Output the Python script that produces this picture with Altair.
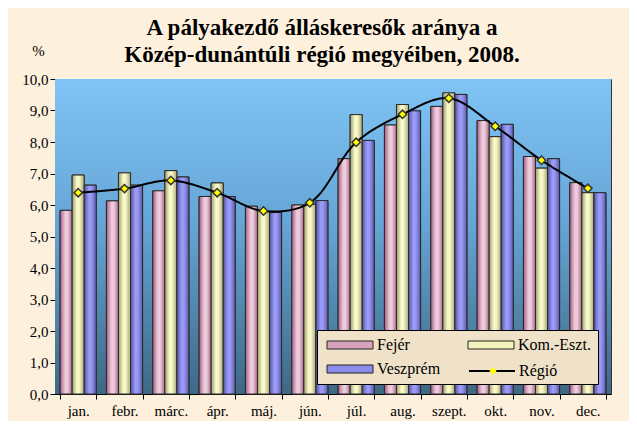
import altair as alt
import pandas as pd

months = ["jan.", "febr.", "márc.", "ápr.", "máj.", "jún.", "júl.", "aug.", "szept.", "okt.", "nov.", "dec."]
series = ["Fejér", "Kom.-Eszt.", "Veszprém"]
fejer = [5.83, 6.13, 6.45, 6.27, 5.96, 6.00, 7.47, 8.54, 9.13, 8.68, 7.54, 6.71]
kom = [6.95, 7.02, 7.09, 6.70, 5.81, 6.02, 8.87, 9.19, 9.56, 8.17, 7.17, 6.39]
vesz = [6.63, 6.63, 6.89, 6.27, 5.76, 6.14, 8.05, 8.99, 9.51, 8.56, 7.47, 6.39]
regio = [6.39, 6.52, 6.78, 6.39, 5.81, 6.07, 7.99, 8.88, 9.39, 8.50, 7.42, 6.53]
y_ticks = [0, 1, 2, 3, 4, 5, 6, 7, 8, 9, 10]

series_colors = ["#D9A3BE", "#F2F2BC", "#8C8CEC"]

rows = []
for s, vals in zip(series, [fejer, kom, vesz]):
    for m, v in zip(months, vals):
        rows.append({"month": m, "series": s, "value": v})
bars_df = pd.DataFrame(rows)
reg_df = pd.DataFrame({"month": months, "value": regio,
                       "series": ["Régió"] * len(months), "marker": ["m"] * len(months)})

SERIF = "Liberation Serif"

x_axis = alt.Axis(labelAngle=0, labelFont=SERIF, labelFontSize=15, labelColor="#000",
                  tickBand="extent", tickColor="#000", tickSize=5, labelPadding=4,
                  domainColor="#000", grid=False, title=None)
y_axis = alt.Axis(values=y_ticks, labelExpr="replace(format(datum.value, '.1f'), '.', ',')",
                  labelFont=SERIF, labelFontSize=15, labelColor="#000", labelOverlap=False,
                  tickColor="#000", tickSize=5, domainColor="#000",
                  gridColor="#000", gridWidth=1.2, gridOpacity=1,
                  title="%", titleAngle=0, titleX=-17, titleY=-29,
                  titleAlign="center", titleBaseline="middle",
                  titleFont=SERIF, titleFontSize=15, titleFontWeight="normal")
x_scale = alt.Scale(domain=months, paddingInner=0.22, paddingOuter=0.11)
y_scale = alt.Scale(domain=[0, 10], nice=False)

x_enc = alt.X("month:N", sort=months, scale=x_scale, axis=x_axis)
y_enc = alt.Y("value:Q", scale=y_scale, axis=y_axis, title="%")
xoff = alt.XOffset("series:N", sort=series, scale=alt.Scale(domain=series, paddingInner=0, paddingOuter=0))

color_enc = alt.Color("series:N", scale=alt.Scale(domain=series, range=series_colors),
                      legend=alt.Legend(
                          title=None, orient="none", legendX=262, legendY=251, columns=2,
                          direction="horizontal",
                          fillColor="#EFE2C8", strokeColor="#000", padding=7,
                          labelFont=SERIF, labelFontSize=16, labelColor="#000",
                          symbolType="M-1,-0.8H8.2V0.8H-1Z",
                          symbolSize=100, symbolStrokeColor="#222", symbolStrokeWidth=1,
                          symbolOpacity=1, columnPadding=24, rowPadding=8, labelOffset=37))

plot_bg = alt.Gradient(gradient="linear", x1=0, x2=0, y1=0, y2=1,
                       stops=[alt.GradientStop(color="#7FC4F5", offset=0),
                              alt.GradientStop(color="#66A6D6", offset=0.45),
                              alt.GradientStop(color="#3E6985", offset=1)])
bg = alt.Chart(pd.DataFrame({"a": [0]})).mark_rect(fill=plot_bg).encode(
    y=alt.Y(datum=0, type="quantitative", scale=y_scale, axis=y_axis, title="%"),
    y2=alt.Y2(datum=10))

base_bars = alt.Chart(bars_df).mark_bar(stroke="#2b2b2b", strokeWidth=1).encode(
    x=x_enc, xOffset=xoff, y=y_enc, color=color_enc)

grad_stops = {
    "Fejér": ["#A55A86", "#E9C7D7", "#EDD0DD", "#B06890"],
    "Kom.-Eszt.": ["#9C9C6C", "#FAFACC", "#F6F6C4", "#A8A878"],
    "Veszprém": ["#5252A0", "#9C9CF8", "#9898F4", "#5A5AAA"],
}
overlays = []
for s in series:
    c = grad_stops[s]
    g = alt.Gradient(gradient="linear", x1=0, x2=1, y1=0, y2=0,
                     stops=[alt.GradientStop(color=c[0], offset=0),
                            alt.GradientStop(color=c[1], offset=0.4),
                            alt.GradientStop(color=c[2], offset=0.6),
                            alt.GradientStop(color=c[3], offset=1)])
    overlays.append(alt.Chart(bars_df).transform_filter(alt.datum.series == s)
                    .mark_bar(fill=g, stroke="#2b2b2b", strokeWidth=1)
                    .encode(x=x_enc, xOffset=xoff, y=y_enc))

line = alt.Chart(reg_df).mark_line(interpolate="catmull-rom", color="#000", strokeWidth=2).encode(
    x=x_enc, y=y_enc,
    strokeDash=alt.StrokeDash("series:N", scale=alt.Scale(domain=["Régió"], range=[[1, 0]]),
                              legend=alt.Legend(title=None, orient="none", legendX=411, legendY=284,
                                                labelFont=SERIF, labelFontSize=16, labelColor="#000",
                                                symbolType="M-1,0H8.2", symbolSize=100,
                                                symbolStrokeColor="#000", symbolStrokeWidth=2,
                                                symbolOpacity=1, labelOffset=37, padding=0)))
points = alt.Chart(reg_df).mark_point(filled=True, shape="diamond", size=70, stroke="#333",
                                      strokeWidth=1.5, opacity=1, fill="#FFFF00").encode(
    x=x_enc, y=y_enc,
    shape=alt.Shape("marker:N", scale=alt.Scale(domain=["m"], range=["diamond"]),
                    legend=alt.Legend(title=None, orient="none", legendX=430, legendY=284,
                                      labelExpr="' '", labelFont=SERIF, labelFontSize=16,
                                      symbolSize=55, symbolFillColor="#FFFF00",
                                      symbolStrokeColor="#333", symbolStrokeWidth=1.5,
                                      symbolOpacity=1, padding=0)))

chart = alt.layer(bg, base_bars, *overlays, line, points).properties(
    width=556, height=315,
    autosize=alt.AutoSizeParams(type="none"),
    padding={"left": 47, "top": 71, "right": 18, "bottom": 27},
    title=alt.TitleParams(text=["A pályakezdő álláskeresők aránya a",
                                "Közép-dunántúli régió megyéiben, 2008."],
                          font=SERIF, fontSize=23, fontWeight="bold", color="#000",
                          anchor="middle", dx=-11, offset=-24, lineHeight=27),
).configure(background="#FDF0DC").configure_view(stroke="#333", strokeWidth=1)

chart.save("out.html", embed_options={"renderer": "svg", "actions": False})
